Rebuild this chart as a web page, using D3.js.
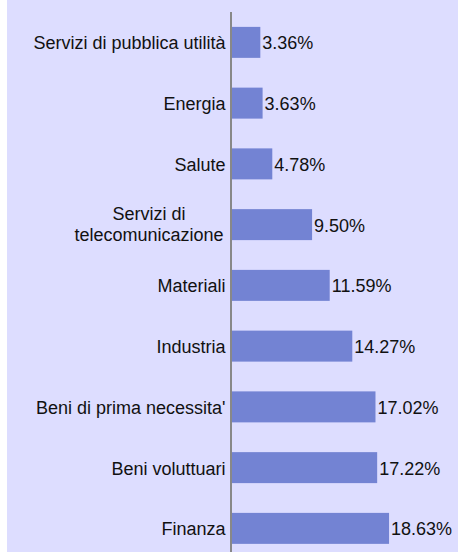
<!DOCTYPE html>
<html><head><meta charset="utf-8">
<script src="https://cdn.jsdelivr.net/npm/d3@7"></script>
<style>html,body{margin:0;padding:0;background:#fff;}svg{display:block;}</style>
</head><body><svg id="c" width="458" height="552"></svg>
<script>
const categories = ["Servizi di pubblica utilità","Energia","Salute","Servizi di\ntelecomunicazione","Materiali","Industria","Beni di prima necessita'","Beni voluttuari","Finanza"];
const values = [3.36,3.63,4.78,9.50,11.59,14.27,17.02,17.22,18.63];
const valueLabels = ["3.36%","3.63%","4.78%","9.50%","11.59%","14.27%","17.02%","17.22%","18.63%"];

const svg = d3.select("#c");
svg.append("rect").attr("x",7).attr("y",0).attr("width",451).attr("height",552).attr("fill","#DDDDFF");
const x0 = 232;
const x = d3.scaleLinear().domain([0,1]).range([x0, x0+8.43]);
const y = d3.scaleBand().domain(categories).range([12,558.75]).paddingInner(0.49).paddingOuter(0.245);
const font = "Liberation Sans, Arial, sans-serif";
const fs = 18;
svg.selectAll("rect.bar").data(values).join("rect").attr("class","bar")
  .attr("x",x(0)).attr("y",(d,i)=>y(categories[i]))
  .attr("width",d=>x(d)-x(0)).attr("height",y.bandwidth()).attr("fill","#7383D3");
svg.append("line").attr("x1",231).attr("x2",231).attr("y1",12).attr("y2",552).attr("stroke","#888").attr("stroke-width",2);
const lab = svg.selectAll("text.lab").data(categories).join("text").attr("class","lab")
  .attr("font-family",font).attr("font-size",fs).attr("fill","#111")
  .attr("text-anchor",d=>d.includes("\n")?"middle":"end");
lab.each(function(d){
  const t=d3.select(this); const lines=d.split("\n"); const cy=y(d)+y.bandwidth()/2;
  if(lines.length===1){ t.attr("x",225.5).attr("y",cy+7).text(d); }
  else { lines.forEach((l,j)=>t.append("tspan").attr("x",149).attr("y",cy-4.5+j*21).text(l)); }
});
svg.selectAll("text.val").data(values).join("text").attr("class","val")
  .attr("font-family",font).attr("font-size",fs).attr("fill","#111")
  .attr("x",d=>x(d)+2).attr("y",(d,i)=>y(categories[i])+y.bandwidth()/2+7).text((d,i)=>valueLabels[i]);
</script></body></html>
